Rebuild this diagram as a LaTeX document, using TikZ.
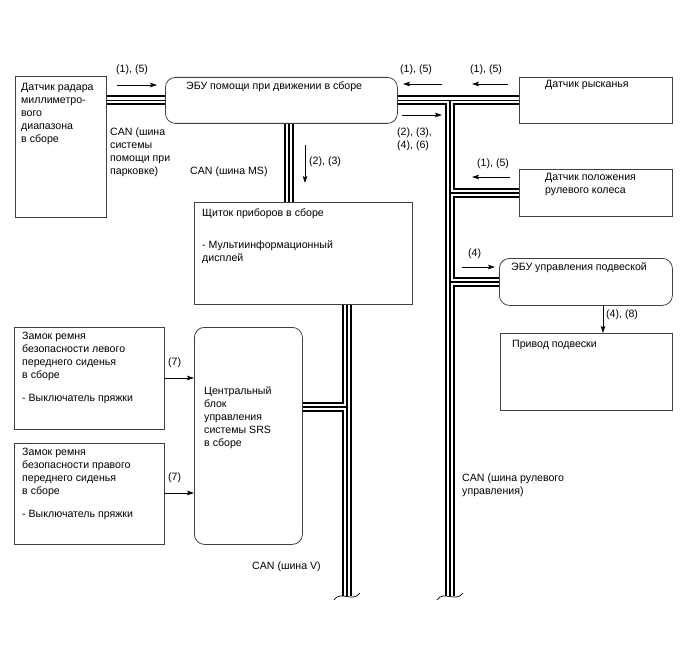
\documentclass[tikz,border=0pt]{standalone}
\usepackage{fontspec}
\setmainfont{Liberation Sans}
\usetikzlibrary{arrows.meta,calc}
\tikzset{
  box/.style={draw=black!75, line width=0.8pt, anchor=north west, inner sep=0pt},
  rbox/.style={box, rounded corners=10pt},
  txt/.style={font=\fontsize{10.6}{13}\selectfont, align=left, inner sep=0pt, anchor=north west},
  lbl/.style={font=\fontsize{10.6}{13}\selectfont, align=left, inner sep=0pt, anchor=west},
  sig/.style={line width=0.7pt, -{Stealth[length=7pt,width=4.5pt,inset=1.5pt]}},
}
\newcommand{\drawbus}[1]{%
  \draw[#1] (radar.east |- ecu.west) -- (ecu.west)
    (ecu.east) -- (yaw.west)
    (rtop) -- (rbot)
    (rtop |- steer.west) -- (steer.west)
    (rtop |- susp.west) -- (susp.west)
    (ecu.south -| ecubus) -- (inst.north -| ecubus)
    (inst.south -| mbot) -- (mbot)
    (srs.east |- 0,407) -- (mbot |- 0,407);}
\begin{document}
\begin{tikzpicture}[x=1pt,y=-1pt]
\useasboundingbox (0,0) rectangle (688,658);
% boxes
\node[box, minimum width=91pt, minimum height=141pt] (radar) at (15,76) {};
\node[rbox, minimum width=232pt, minimum height=46pt] (ecu) at (165,77) {};
\node[box, minimum width=153pt, minimum height=46pt] (yaw) at (519,77) {};
\node[box, minimum width=153pt, minimum height=47pt] (steer) at (519,169) {};
\node[rbox, minimum width=173pt, minimum height=47pt] (susp) at (499,258) {};
\node[box, minimum width=172pt, minimum height=77pt] (act) at (500,333) {};
\node[box, minimum width=218pt, minimum height=102pt] (inst) at (194,202) {};
\node[rbox, minimum width=108pt, minimum height=217pt] (srs) at (194,327) {};
\node[box, minimum width=150pt, minimum height=102pt] (seatL) at (14,327) {};
\node[box, minimum width=150pt, minimum height=101pt] (seatR) at (14,443) {};
% bus reference points
\coordinate (rtop) at (450,100);
\coordinate (rbot) at (450,596);
\coordinate (mbot) at (347,596);
\coordinate (ecubus) at (289,150);
% bus
\drawbus{line width=10pt}
\drawbus{white, line width=6pt}
\drawbus{line width=1.5pt}
% bus break marks
\foreach \b in {mbot, rbot}{
  \draw[line width=0.7pt, black] ($(\b)+(-13,4)$) .. controls ($(\b)+(-7,-6)$) and ($(\b)+(6,7)$) .. ($(\b)+(13,-3)$);
}
% texts in boxes
\node[txt] (tradar) at (21,83.5) {Датчик радара\\миллиметро-\\вого\\диапазона\\в сборе};
\node[txt] (tecu) at (186,81.5) {ЭБУ помощи при движении в сборе};
\node[txt] (tyaw) at (545,80.5) {Датчик рысканья};
\node[txt] (tsteer) at (545,173.5) {Датчик положения\\рулевого колеса};
\node[txt] (tsusp) at (511,262.5) {ЭБУ управления подвеской};
\node[txt] (tact) at (512,340.5) {Привод подвески};
\node[txt] (tinst) at (202,208.5) {Щиток приборов в сборе\\[19pt]- Мультиинформационный\\дисплей};
\node[txt] (tsrs) at (204,386.5) {Центральный\\блок\\управления\\системы SRS\\в сборе};
\node[txt] (tseatL) at (22,331.5) {Замок ремня\\безопасности левого\\переднего сиденья\\в сборе\\[10pt]- Выключатель пряжки};
\node[txt] (tseatR) at (22,447.5) {Замок ремня\\безопасности правого\\переднего сиденья\\в сборе\\[10pt]- Выключатель пряжки};
% bus labels
\node[txt] (canp) at (110,127.5) {CAN (шина\\системы\\помощи при\\парковке)};
\node[lbl] (canms) at (190,172) {CAN (шина MS)};
\node[lbl] (canv) at (252,567) {CAN (шина V)};
\node[txt] (cans) at (462,473.5) {CAN (шина рулевого\\управления)};
% signal labels
\node[lbl] (l1) at (116,70) {(1), (5)};
\node[lbl] (l2) at (400,70) {(1), (5)};
\node[lbl] (l3) at (470,70) {(1), (5)};
\node[txt] (l4) at (397,127.5) {(2), (3),\\(4), (6)};
\node[lbl] (l5) at (309,162) {(2), (3)};
\node[lbl] (l6) at (477,164) {(1), (5)};
\node[lbl] (l7) at (468,254) {(4)};
\node[lbl] (l8) at (606,315) {(4), (8)};
\node[lbl] (l9) at (168,363) {(7)};
\node[lbl] (l10) at (168,478) {(7)};
% signal arrows
\draw[sig] (117,85) -- (157,85);
\draw[sig] (442,84) -- (403,84);
\draw[sig] (508,84) -- (472,84);
\draw[sig] (402,115) -- (442,115);
\draw[sig] (305,145) -- (305,183);
\draw[sig] (510,177) -- (472,177);
\draw[sig] (462,267) -- (495,267);
\draw[sig] (603,0 |- susp.south) -- (603,0 |- act.north);
\draw[sig] (seatL.east |- 0,378) -- (srs.west |- 0,378);
\draw[sig] (seatR.east |- 0,493) -- (srs.west |- 0,493);
\end{tikzpicture}
\end{document}
